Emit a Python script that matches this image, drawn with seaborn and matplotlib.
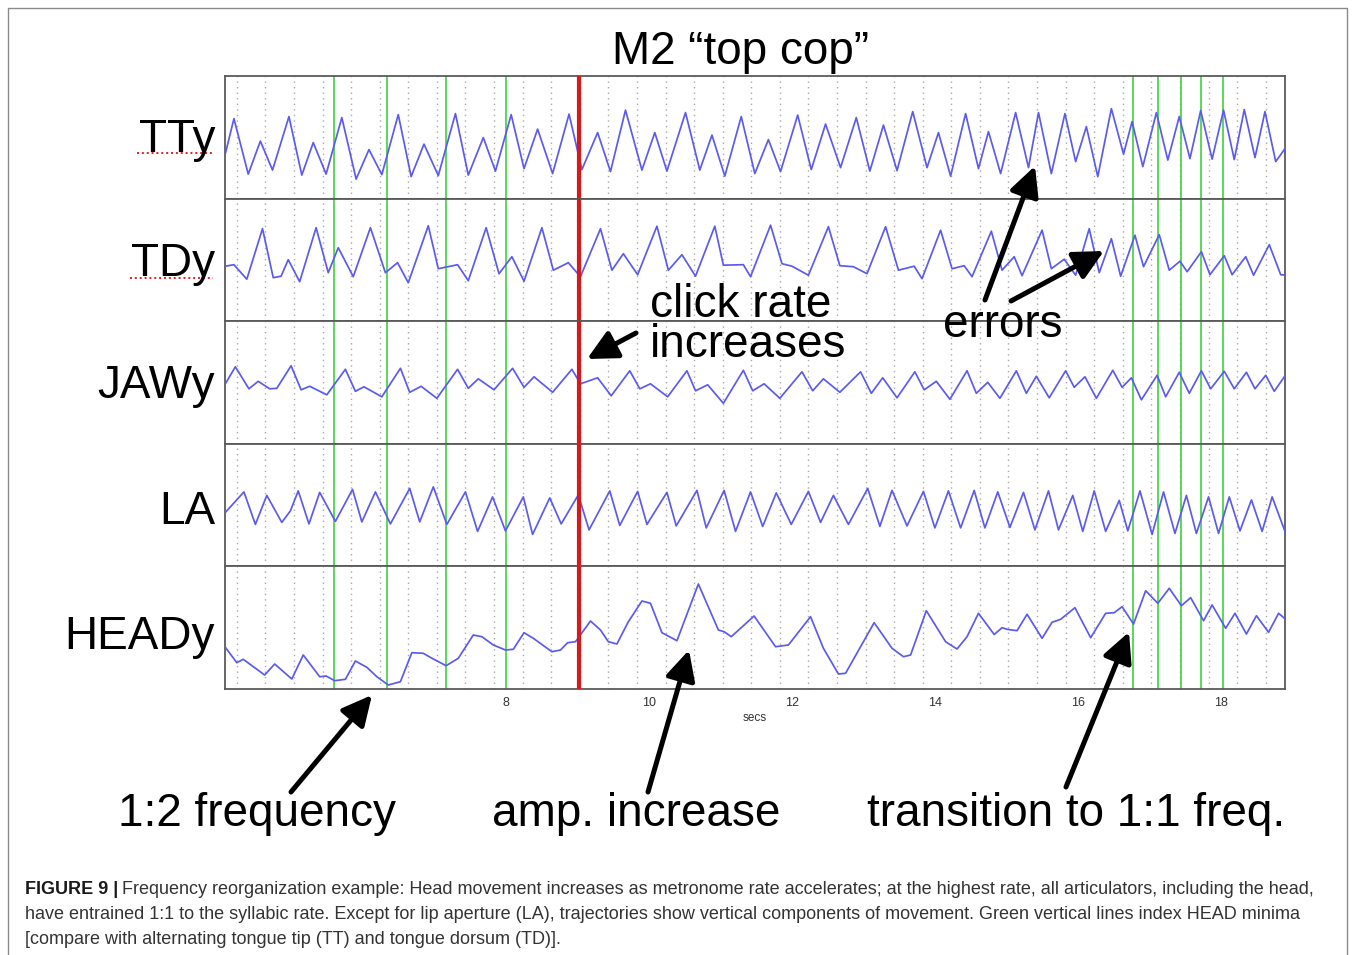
import matplotlib
matplotlib.use("Agg")
import matplotlib.pyplot as plt
from matplotlib.ticker import MultipleLocator, FixedLocator
import pandas as pd
import seaborn as sns

# ---------------- data (time in s, value in arbitrary units) ----------------
TTY = [(4.07,45),(4.19,80),(4.39,24.5),(4.56,57.5),(4.73,28.5),(4.96,82),(5.14,23.5),(5.30,56),
       (5.48,24.5),(5.70,81),(5.90,19.5),(6.08,49),(6.26,24),(6.49,84),(6.67,22),(6.85,54.5),
       (7.05,23),(7.29,85),(7.47,23.5),(7.68,61),(7.85,27.5),(8.07,84),(8.25,30),(8.44,69.5),
       (8.65,25),(8.88,84.5),(9.06,29),(9.28,66),(9.46,27),(9.67,88.5),(9.90,28.5),(10.08,66),
       (10.25,27.5),(10.51,86),(10.71,28.5),(10.88,63.5),(11.06,22.5),(11.29,82),(11.48,25),
       (11.67,59),(11.84,27),(12.08,83.5),(12.27,29),(12.47,74.5),(12.68,31),(12.90,81),
       (13.09,27.5),(13.28,73.5),(13.47,28),(13.69,87),(13.89,31),(14.05,66),(14.22,22.5),
       (14.43,85),(14.61,30),(14.75,67),(14.92,25),(15.13,86),(15.31,31),(15.45,86),(15.63,25),
       (15.82,85),(15.97,37),(16.12,72),(16.28,22),(16.47,90),(16.64,44.5),(16.76,77),(16.91,32),
       (17.10,86),(17.26,38.5),(17.42,82),(17.57,40),(17.72,88),(17.88,39.5),(18.04,88.5),
       (18.19,39),(18.33,89),(18.48,41),(18.62,87),(18.77,37),(18.91,51)]

TDY = [(4.07,55),(4.19,56.5),(4.37,42),(4.59,92.5),(4.74,43.5),(4.85,45),(4.95,61.5),(5.11,39.5),
       (5.34,93.5),(5.51,48.5),(5.65,73.5),(5.86,44.5),(6.10,93.5),(6.31,48.5),(6.48,58.5),
       (6.63,38.5),(6.91,95.5),(7.05,52.5),(7.32,56.5),(7.47,40.5),(7.72,93.5),(7.90,47.5),
       (8.08,64.5),(8.25,40),(8.50,93.5),(8.66,51),(8.87,58.5),(9.04,44.5),(9.32,92.5),(9.48,51),
       (9.64,67.5),(9.84,46.5),(10.11,95),(10.27,51),(10.46,66.5),(10.65,45),(10.92,95),
       (11.04,56),(11.32,56.5),(11.42,44.5),(11.70,96),(11.86,57.5),(12.00,55),(12.23,46),
       (12.51,94.5),(12.67,55.5),(12.86,54.5),(13.05,47.5),(13.31,94.5),(13.49,51),(13.71,55),
       (13.82,42.5),(14.08,91),(14.24,52.5),(14.41,55.5),(14.52,44.5),(14.79,90),(14.94,51),
       (15.11,64.5),(15.22,45.5),(15.50,91),(15.63,52.5),(15.81,62),(15.97,46),(16.16,92.5),
       (16.30,48.5),(16.47,82.5),(16.60,45),(16.80,86),(16.92,54.5),(17.14,86.5),(17.28,51),
       (17.43,60),(17.53,49.5),(17.73,69.5),(17.85,46.5),(18.05,65.5),(18.16,46.5),(18.35,64.5),
       (18.46,46),(18.68,76.5),(18.84,46.5),(18.92,46)]

JAWY = [(4.07,60),(4.21,77),(4.40,55),(4.53,62.5),(4.69,55),(4.79,55.5),(4.99,78),(5.13,54),
        (5.25,57.5),(5.49,49),(5.75,74.5),(5.89,52.5),(6.01,57),(6.26,47),(6.52,75.5),(6.65,51.5),
        (6.81,57.5),(7.03,45.5),(7.32,74.5),(7.47,55.5),(7.61,65),(7.83,54),(8.09,75.5),(8.25,56.5),
        (8.39,67),(8.65,51.5),(8.92,74.5),(9.04,60),(9.28,66),(9.47,48),(9.73,73),(9.87,55),
        (10.02,60),(10.26,47),(10.53,73),(10.65,53),(10.82,59),(11.04,40.5),(11.32,73.5),(11.45,53),
        (11.61,60),(11.83,45.5),(12.14,72),(12.29,53),(12.44,65),(12.67,51.5),(12.96,72),(13.11,50.5),
        (13.27,66),(13.47,46),(13.72,72),(13.85,54),(14.02,62.5),(14.21,44.5),(14.45,73),(14.58,50.5),
        (14.74,61.5),(14.91,45.5),(15.14,73),(15.28,50.5),(15.42,67.5),(15.60,46),(15.83,73),
        (15.95,56.5),(16.10,67),(16.26,45.5),(16.49,73.5),(16.62,56.5),(16.75,66),(16.89,44),
        (17.11,68.5),(17.23,47),(17.42,71.5),(17.56,50.5),(17.73,73),(17.86,55),(18.05,72.5),
        (18.19,55),(18.36,71.5),(18.48,55),(18.63,68.5),(18.75,52.5),(18.91,69)]

LA = [(4.07,54),(4.33,74.5),(4.49,42),(4.65,71),(4.86,44),(4.98,55.5),(5.09,75.5),(5.24,42.5),
      (5.39,74),(5.61,45),(5.85,77),(5.98,44.5),(6.17,74.5),(6.38,42.5),(6.65,78),(6.79,44.5),
      (6.98,79.5),(7.17,42),(7.43,74.5),(7.60,35),(7.81,69.5),(7.99,35.5),(8.24,69.5),(8.37,32),
      (8.61,68.5),(8.77,42.5),(9.01,71.5),(9.16,36.5),(9.45,75.5),(9.59,41),(9.84,75),(9.97,42),
      (10.25,74),(10.38,40.5),(10.67,76),(10.80,38.5),(11.05,76),(11.21,35),(11.42,74.5),(11.59,40),
      (11.78,73.5),(11.99,42),(12.23,75),(12.40,44),(12.58,71),(12.79,42),(13.06,78),(13.23,40),
      (13.40,76),(13.61,40.5),(13.84,75),(14.00,38.5),(14.19,75.5),(14.36,38.5),(14.55,76),
      (14.70,38.5),(14.88,74.5),(15.05,39),(15.24,74),(15.40,36.5),(15.59,75.5),(15.73,36.5),
      (15.93,71),(16.07,35),(16.23,75.5),(16.39,35),(16.58,66),(16.70,35.5),(16.87,75.5),(17.04,32),
      (17.20,74.5),(17.36,33),(17.52,71),(17.66,33),(17.83,69.5),(17.97,33),(18.12,69.5),
      (18.27,35.5),(18.43,66.5),(18.58,35),(18.72,69.5),(18.91,33)]

HEADY = [(4.07,41.7),(4.23,26.3),(4.32,29.7),(4.62,14),(4.76,25),(5.00,10),(5.16,34),(5.39,12.3),
         (5.48,13),(5.60,8.3),(5.75,9.7),(5.89,28),(6.05,21.7),(6.19,12.3),(6.35,4),(6.52,7.3),
         (6.68,36.3),(6.84,35.7),(6.98,30),(7.16,23.3),(7.33,30.7),(7.54,54),(7.66,52.3),(7.82,44),
         (7.99,39),(8.10,39.7),(8.25,56.3),(8.38,50.7),(8.64,37.3),(8.76,39),(8.86,46.3),(8.97,47.3),
         (9.18,68),(9.32,59),(9.43,47.3),(9.55,45),(9.71,67.3),(9.90,88),(10.02,85.7),(10.18,56.3),
         (10.39,48.3),(10.69,105),(10.97,59),(11.05,57.3),(11.15,52.3),(11.47,73),(11.77,42.3),
         (11.95,44),(12.26,72.3),(12.44,40.7),(12.65,15),(12.75,15.7),(13.15,66.3),(13.40,40.7),
         (13.56,32.3),(13.66,34),(13.88,78.3),(14.15,47.3),(14.22,44),(14.31,40),(14.45,52.3),
         (14.61,75.7),(14.83,54.5),(14.94,61.3),(15.01,59.7),(15.15,58.3),(15.29,74.7),(15.50,50.7),
         (15.64,66.7),(15.76,69.7),(15.96,81.3),(16.18,51.3),(16.39,75.7),(16.51,76.3),(16.62,82.3),
         (16.78,65),(16.95,98.3),(17.12,85.7),(17.28,100.7),(17.45,83.3),(17.58,91.3),(17.76,68.3),
         (17.88,84),(18.07,60.7),(18.20,75.7),(18.36,55),(18.50,73.3),(18.67,56.7),(18.81,75.7),
         (18.92,69)]

PANEL_NAMES = ["TTy", "TDy", "JAWy", "LA", "HEADy"]
PANEL_DATA = [TTY, TDY, JAWY, LA, HEADY]
GREEN_T = [5.59, 6.33, 7.16, 8.00, 16.77, 17.12, 17.45, 17.73, 18.03]   # HEAD minima
RED_T = 9.02                                                          # click rate increases
XTICKS = [6, 8, 10, 12, 14, 16, 18]
XTICKLABELS = ["", "8", "10", "12", "14", "16", "18"]
TITLE = "M2 \u201ctop cop\u201d"

# ---------------- figure ----------------
sns.set_style("white")
plt.rcParams['font.family'] = ['Liberation Sans', 'DejaVu Sans']
plt.rcParams['text.color'] = 'black'

W, H = 1355, 955
fig = plt.figure(figsize=(W / 100, H / 100), dpi=100)
fig.patch.set_facecolor("white")

def fx(x):
    return x / W

def fy(y):
    return 1 - y / H

LEFT, RIGHT, TOP, BOTTOM = 225, 1285, 76, 689
ph = (BOTTOM - TOP) / 5.0
XMIN, XMAX = 4.065, 18.9
SIG = "#5b5bf0"

axes = []
for i, (name, data) in enumerate(zip(PANEL_NAMES, PANEL_DATA)):
    y_top = TOP + i * ph
    ax = fig.add_axes([fx(LEFT), fy(y_top + ph), (RIGHT - LEFT) / W, ph / H])
    df = pd.DataFrame(data, columns=["t", "v"])
    # dotted vertical grid
    ax.xaxis.set_minor_locator(MultipleLocator(0.4, offset=0.23))
    ax.grid(which="minor", axis="x", color="#a8a8a8", linestyle=(0, (1, 3)), linewidth=1.0)
    ax.grid(which="major", axis="x", visible=False)
    ax.grid(which="major", axis="y", visible=False)
    for g in GREEN_T:
        ax.axvline(g, color="#4cd64c", lw=1.3, zorder=2)
    ax.axvline(RED_T, color="#d8191c", lw=3.0, zorder=4)
    sns.lineplot(data=df, x="t", y="v", ax=ax, color=SIG, linewidth=1.25,
                 estimator=None, sort=False, zorder=3)
    for ln in ax.get_lines():
        ln.set_solid_joinstyle("round")
    ax.set_xlim(XMIN, XMAX)
    ax.set_ylim(0, ph)
    ax.set_yticks([])
    ax.set_ylabel("")
    ax.set_xlabel("")
    for s in ax.spines.values():
        s.set_color("#5a5a5a")
        s.set_linewidth(1.3)
    ax.tick_params(axis="x", which="minor", length=0)
    if i < 4:
        ax.set_xticks([])
    else:
        ax.xaxis.set_major_locator(FixedLocator(XTICKS))
        ax.set_xticklabels(XTICKLABELS)
        ax.tick_params(axis="x", which="major", direction="in", length=6, width=1.0,
                       color="#555555", labelsize=9, labelcolor="#333333", pad=6)
        ax.set_xlabel("secs", fontsize=8.5, color="#333333", labelpad=2)
    axes.append(ax)

# ---------------- overlay for text & arrows ----------------
ov = fig.add_axes([0, 0, 1, 1], zorder=10)
ov.set_xlim(0, W)
ov.set_ylim(H, 0)
ov.axis("off")

# outer frame
ov.plot([8, 8, 1347, 1347], [960, 8, 8, 960], color="#8a8a8a", lw=1.0, clip_on=False)

BIG = 33
ov.text(741, 64, TITLE, fontsize=BIG, ha="center", va="baseline", color="black")

label_base = [152, 276, 398, 524, 649]
for name, yb in zip(PANEL_NAMES, label_base):
    ov.text(215, yb, name, fontsize=BIG, ha="right", va="baseline", color="black")
# spell-check style red dotted underlines
ov.plot([137, 213], [153, 153], color="#e02020", lw=1.4, linestyle=(0, (1, 1.5)))
ov.plot([130, 213], [278, 278], color="#e02020", lw=1.4, linestyle=(0, (1, 1.5)))

ov.text(650, 283, "click rate\nincreases", fontsize=BIG, ha="left", va="top",
        linespacing=0.88, color="black")
ov.text(1003, 337, "errors", fontsize=BIG, ha="center", va="baseline", color="black")
ov.text(257, 826, "1:2 frequency", fontsize=BIG, ha="center", va="baseline", color="black")
ov.text(636, 826, "amp. increase", fontsize=BIG, ha="center", va="baseline", color="black")
ov.text(1076, 826, "transition to 1:1 freq.", fontsize=BIG, ha="center", va="baseline",
        color="black")

arrows = [((291, 792), (372, 695)),
          ((648, 792), (689, 650)),
          ((1066, 787), (1129, 632)),
          ((985, 300), (1035, 166)),
          ((1011, 301), (1104, 251)),
          ((636, 333), (587, 359))]
for (x0, y0), (x1, y1) in arrows:
    ov.annotate("", xy=(x1, y1), xytext=(x0, y0),
                arrowprops=dict(arrowstyle="-|>,head_length=0.9,head_width=0.45",
                                lw=3.6, color="black", shrinkA=0, shrinkB=0,
                                mutation_scale=20))

# ---------------- caption ----------------
CAP = 13.0
lines = ["Frequency reorganization example: Head movement increases as metronome rate accelerates; at the highest rate, all articulators, including the head,",
         "have entrained 1:1 to the syllabic rate. Except for lip aperture (LA), trajectories show vertical components of movement. Green vertical lines index HEAD minima",
         "[compare with alternating tongue tip (TT) and tongue dorsum (TD)]."]
bold = ov.text(25, 894, "FIGURE 9 |", fontsize=CAP, fontweight="bold", ha="left",
               va="baseline", color="#1a1a1a")
fig.canvas.draw()
bw = bold.get_window_extent(renderer=fig.canvas.get_renderer()).width
ov.text(25 + bw + 4, 894, lines[0], fontsize=CAP, ha="left", va="baseline", color="#333333")
ov.text(25, 919, lines[1], fontsize=CAP, ha="left", va="baseline", color="#333333")
ov.text(25, 944, lines[2], fontsize=CAP, ha="left", va="baseline", color="#333333")

fig.savefig("out.png", dpi=100, facecolor="white")
